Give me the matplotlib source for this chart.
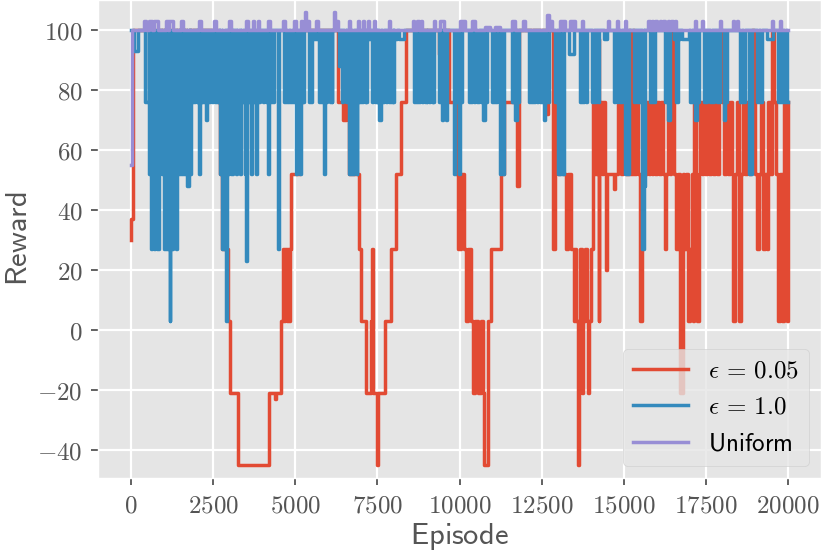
import matplotlib
matplotlib.use("Agg")
import matplotlib.pyplot as plt
from matplotlib.ticker import FuncFormatter, MultipleLocator

# epsilon = 0.05 run: (episode where the value starts, reward)
red_steps = [
    (0, 30), (15, 37), (50, 100),
    (600, 97), (660, 100), (760, 97), (820, 100), (1060, 97), (1110, 100),
    (1270, 97), (1340, 100), (1700, 97), (1780, 100),
    (2650, 76), (2700, 52), (2760, 27), (2950, 3), (3010, -21), (3270, -45),
    (4190, -21), (4380, -23), (4420, -21), (4580, 3), (4620, 27), (4650, 3),
    (4700, 27), (4740, 3), (4780, 27), (4800, 3), (4830, 27), (4880, 52),
    (5150, 76), (5250, 100),
    (6300, 76), (6450, 70), (6550, 76), (6600, 100),
    (6650, 52), (6950, 27), (7010, 3), (7160, -21), (7300, 3), (7330, 27),
    (7380, -21), (7480, -45), (7520, -21), (7740, 3), (7920, 27),
    (8070, 52), (8225, 76), (8380, 100),
    (9380, 92), (9430, 100), (9580, 97), (9630, 100),
    (9680, 76), (9900, 52), (9960, 27), (10050, 52), (10150, 27),
    (10200, 3), (10260, 27), (10350, 3), (10420, -21), (10480, 3),
    (10560, -21), (10650, 3), (10700, -21), (10760, -45), (10880, 3),
    (10950, 27), (11250, 52), (11350, 76), (11620, 100), (11760, 48),
    (11810, 100), (12625, 72), (12680, 100),
    (12840, 27), (12900, 76), (12990, 52), (13050, 76), (13150, 52),
    (13230, 27), (13300, 52), (13400, 27), (13480, 3), (13520, 27),
    (13560, 3), (13600, -45), (13630, 3), (13680, 27), (13720, -21),
    (13760, 3), (13820, 27), (13870, 3), (13900, -21), (13940, 3),
    (14000, 27), (14050, 76), (14120, 52), (14180, 97), (14230, 3),
    (14260, 76), (14330, 52), (14380, 76), (14430, 52), (14460, 20),
    (14500, 52), (14690, 47), (14720, 52), (14810, 76), (14900, 52),
    (14960, 76), (15020, 100), (15060, 52), (15150, 100), (15200, 52),
    (15265, 100), (15300, 52), (15380, 76), (15440, 52), (15500, 3),
    (15540, 52), (15600, 76), (15650, 52), (15700, 76), (15760, 52),
    (15800, 76), (15850, 52), (15900, 76), (15950, 52), (16000, 76),
    (16060, 52), (16120, 76), (16180, 52), (16240, 27), (16290, 52),
    (16340, 76), (16400, 52), (16450, 76), (16500, 100), (16540, 52),
    (16600, 27), (16650, 52), (16720, -21), (16800, 52), (16840, 27),
    (16900, 52), (16950, 3), (17000, 27), (17060, 52), (17100, 3),
    (17150, 76), (17200, 52), (17240, 3), (17280, 52), (17320, 76),
    (17380, 52), (17420, 76), (17480, 52), (17540, 76), (17600, 52),
    (17660, 76), (17720, 52), (17780, 76), (17840, 52), (17900, 76),
    (17935, 100), (17980, 76), (18050, 52), (18120, 76), (18180, 52),
    (18240, 76), (18300, 52), (18330, 3), (18380, 52), (18450, 76),
    (18520, 3), (18570, 52), (18640, 76), (18700, 52), (18760, 76),
    (18820, 52), (18880, 76), (18910, 100), (18950, 76), (19000, 52),
    (19060, 27), (19110, 52), (19180, 76), (19240, 27), (19290, 52),
    (19360, 27), (19400, 76), (19460, 52), (19515, 100), (19560, 76),
    (19620, 52), (19700, 3), (19760, 52), (19820, 3), (19870, 76),
    (19930, 52), (19970, 3), (19990, 76),
]

# epsilon = 1.0 run: sits at 100, dips listed as (start, end, reward)
blue_dips = [
    (90, 230, 93), (420, 560, 76), (560, 600, 52), (600, 640, 27),
    (640, 700, 52), (700, 740, 27), (740, 800, 52), (800, 850, 27),
    (850, 880, 52), (920, 960, 76), (960, 1000, 52), (1000, 1030, 27),
    (1030, 1080, 52), (1080, 1130, 27), (1180, 1200, 3), (1200, 1240, 52),
    (1240, 1280, 27), (1280, 1330, 52), (1380, 1400, 27), (1400, 1450, 76),
    (1450, 1490, 52), (1490, 1540, 76), (1540, 1580, 52), (1580, 1620, 76),
    (1620, 1660, 52), (1660, 1700, 76), (1700, 1760, 48), (1760, 1800, 76),
    (1800, 1840, 52), (1840, 1900, 76), (1930, 1960, 76), (2000, 2020, 76),
    (2080, 2110, 52), (2150, 2170, 76), (2200, 2240, 76), (2290, 2320, 70),
    (2380, 2420, 76), (2470, 2500, 76), (2560, 2600, 76), (2630, 2670, 76),
    (2670, 2720, 76), (2720, 2780, 52), (2780, 2860, 27), (2900, 2930, 3),
    (2930, 2980, 52), (3000, 3060, 70), (3060, 3110, 52), (3110, 3150, 76),
    (3200, 3240, 52), (3240, 3290, 76), (3330, 3360, 52), (3360, 3420, 76),
    (3460, 3490, 52), (3510, 3540, 23), (3580, 3620, 76), (3660, 3700, 52),
    (3740, 3780, 76), (3810, 3840, 52), (3880, 3920, 76), (4020, 4050, 76),
    (4100, 4130, 76), (4180, 4210, 52), (4260, 4290, 76), (4340, 4370, 76),
    (4480, 4510, 27),
    (4660, 4710, 76), (4750, 4800, 76), (4840, 4890, 76), (4920, 4960, 76),
    (5010, 5050, 52), (5090, 5130, 76), (5150, 5170, 52), (5250, 5270, 76),
    (5420, 5460, 76), (5490, 5520, 76), (5570, 5670, 97), (5720, 5760, 76),
    (5790, 5820, 76), (5880, 5920, 52), (5950, 5970, 76), (6050, 6090, 76),
    (6110, 6130, 76), (6330, 6370, 88), (6420, 6450, 76), (6500, 6540, 85),
    (6560, 6580, 76), (6650, 6690, 52), (6740, 6780, 52), (6820, 6850, 76),
    (6870, 6890, 52), (6940, 6990, 76), (7030, 7070, 76), (7110, 7150, 76),
    (7170, 7190, 76), (7200, 7290, 97), (7340, 7380, 76), (7420, 7460, 76),
    (7480, 7500, 76), (7550, 7600, 70), (7640, 7700, 76), (7750, 7800, 76),
    (7840, 7890, 76), (7930, 7970, 76), (7990, 8000, 76), (8000, 8100, 97),
    (8150, 8300, 97), (8610, 8650, 76), (8690, 8740, 76), (8780, 8810, 76),
    (8860, 8900, 76), (8940, 8980, 76), (9000, 9010, 76), (9070, 9110, 76),
    (9150, 9190, 76), (9200, 9220, 76), (9370, 9420, 76), (9460, 9510, 70),
    (9550, 9590, 76), (9600, 9620, 70), (9830, 9870, 52), (9910, 9950, 76),
    (9990, 10030, 52), (10060, 10083, 76), (10285, 10330, 76),
    (10360, 10386, 76), (10437, 10480, 76), (10520, 10589, 76),
    (10640, 10690, 76), (10730, 10770, 70), (10810, 10842, 76),
    (10994, 11040, 76), (11080, 11146, 76), (11247, 11290, 52),
    (11320, 11349, 52), (11602, 11650, 76), (11690, 11740, 70),
    (11770, 11805, 76), (12108, 12150, 76), (12190, 12240, 76),
    (12280, 12311, 76), (12361, 12400, 76), (12440, 12513, 76),
    (12564, 12610, 70), (12650, 12716, 76), (12919, 12960, 76),
    (13000, 13060, 52), (13100, 13172, 52), (13324, 13476, 92),
    (13679, 13720, 76), (13760, 13800, 76), (13840, 13882, 76),
    (14033, 14080, 76), (14120, 14160, 76), (14200, 14236, 76),
    (14388, 14489, 97), (14692, 14740, 76), (14780, 14830, 76),
    (14870, 14945, 76), (15046, 15100, 52), (15120, 15148, 52),
    (15300, 15350, 76), (15390, 15440, 76), (15470, 15502, 76),
    (15553, 15600, 27), (15620, 15654, 48), (15806, 15850, 76),
    (15890, 15958, 76), (16262, 16300, 76), (16340, 16414, 70),
    (16515, 16560, 97), (16600, 16640, 76), (16680, 16718, 97),
    (16768, 16971, 97), (17022, 17070, 76), (17090, 17123, 76),
    (17174, 17220, 70), (17250, 17275, 76), (17427, 17470, 76),
    (17500, 17528, 76), (17629, 17680, 76), (17700, 17731, 76),
    (17832, 17880, 76), (17900, 17933, 76), (18034, 18080, 70),
    (18110, 18136, 76), (18541, 18590, 76), (18630, 18693, 76),
    (18794, 18840, 52), (18870, 18895, 52), (19047, 19100, 76),
    (19140, 19199, 76), (19351, 19554, 97), (19706, 19750, 76),
    (19790, 19840, 76), (19880, 19930, 76), (19960, 20000, 76),
]

# uniform run: sits at 100, short bumps above it
uniform_bumps = [
    (400, 470, 103), (560, 640, 103), (710, 820, 103), (1070, 1130, 103),
    (1170, 1280, 103), (1530, 1590, 103), (2080, 2130, 103),
    (2530, 2580, 103), (2990, 3040, 103), (3500, 3560, 103),
    (3720, 3760, 103), (3870, 3910, 103), (4170, 4220, 103),
    (4630, 4680, 103), (4960, 5010, 103), (5170, 5220, 103),
    (5290, 5340, 106), (5390, 5430, 103), (5630, 5680, 103),
    (6170, 6220, 106), (6240, 6290, 103), (6630, 6680, 103),
    (6900, 6950, 103), (7050, 7100, 103), (7210, 7260, 103),
    (7390, 7430, 103), (7840, 7890, 103), (8570, 8620, 103),
    (8720, 8770, 103), (8820, 8860, 103), (9210, 9260, 103),
    (9420, 9520, 103), (10030, 10080, 103), (10120, 10170, 103),
    (10390, 10470, 103), (10790, 10830, 101), (10880, 10920, 101),
    (11090, 11130, 101), (11180, 11220, 101), (11600, 11680, 103),
    (11940, 11980, 103), (12660, 12720, 105), (12760, 12800, 103),
    (13060, 13110, 103), (13150, 13200, 103), (13360, 13410, 103),
    (13460, 13500, 103), (13730, 13770, 103), (14520, 14560, 103),
    (14790, 14830, 103), (15030, 15080, 103), (15730, 15790, 103),
    (15850, 15900, 103), (15950, 16000, 103), (16100, 16140, 103),
    (16200, 16250, 103), (16340, 16380, 103), (16450, 16500, 103),
    (16550, 16600, 103), (17160, 17210, 103), (17370, 17420, 103),
    (17920, 17960, 103), (18310, 18350, 103), (18430, 18480, 103),
    (19500, 19540, 103), (19740, 19780, 103),
]
uniform_start = [(0, 55), (40, 100)]

LAST_EP = 20000


def from_breaks(breaks):
    xs = [b[0] for b in breaks] + [LAST_EP]
    ys = [b[1] for b in breaks] + [breaks[-1][1]]
    return xs, ys


def from_dips(start, dips, base=100):
    xs = [s[0] for s in start]
    ys = [s[1] for s in start]
    for s, e, v in dips:
        xs.append(s)
        ys.append(v)
        xs.append(e)
        ys.append(base if e < LAST_EP else v)
    if xs[-1] < LAST_EP:
        xs.append(LAST_EP)
        ys.append(ys[-1])
    return xs, ys


plt.style.use("ggplot")
plt.rcParams["mathtext.fontset"] = "cm"

fig = plt.figure(figsize=(8.21, 5.54), dpi=100)
ax = fig.add_axes([98 / 821, 76 / 554, 1 - 98 / 821, 1 - 76 / 554])

lw = 2.5
rx, ry = from_breaks(red_steps)
bx, by = from_dips([(0, 100)], blue_dips)
ux, uy = from_dips(uniform_start, uniform_bumps)
ax.step(rx, ry, where="post", color="#E24A33", lw=lw,
        label=r"$\epsilon\, =\, 0.05$")
ax.step(bx, by, where="post", color="#348ABD", lw=lw,
        label=r"$\epsilon\, =\, 1.0$")
ax.step(ux, uy, where="post", color="#988ED5", lw=lw,
        label=r"$\mathsf{Uniform}$")

ax.set_xlim(-1000, 21000)
ax.set_ylim(-49.4, 110)
ax.xaxis.set_major_locator(MultipleLocator(2500))
ax.yaxis.set_major_locator(MultipleLocator(20))
fmt = FuncFormatter(lambda v, p: f"${v:g}$")
ax.xaxis.set_major_formatter(fmt)
ax.yaxis.set_major_formatter(fmt)
ax.tick_params(labelsize=18, length=5, width=1.3, pad=6, colors="#555555")
ax.grid(True, color="white", lw=1.6)

ax.set_xlabel(r"$\mathsf{Episode}$", fontsize=22, color="#555555", labelpad=3)
ax.set_ylabel(r"$\mathsf{Reward}$", fontsize=22, color="#555555", labelpad=3)

leg = ax.legend(loc="lower right", fontsize=18, framealpha=0.8,
                facecolor="#E5E5E5", edgecolor="#CCCCCC", handlelength=2.2)
for t in leg.get_texts():
    t.set_color("black")

fig.savefig("out.png", dpi=100)
